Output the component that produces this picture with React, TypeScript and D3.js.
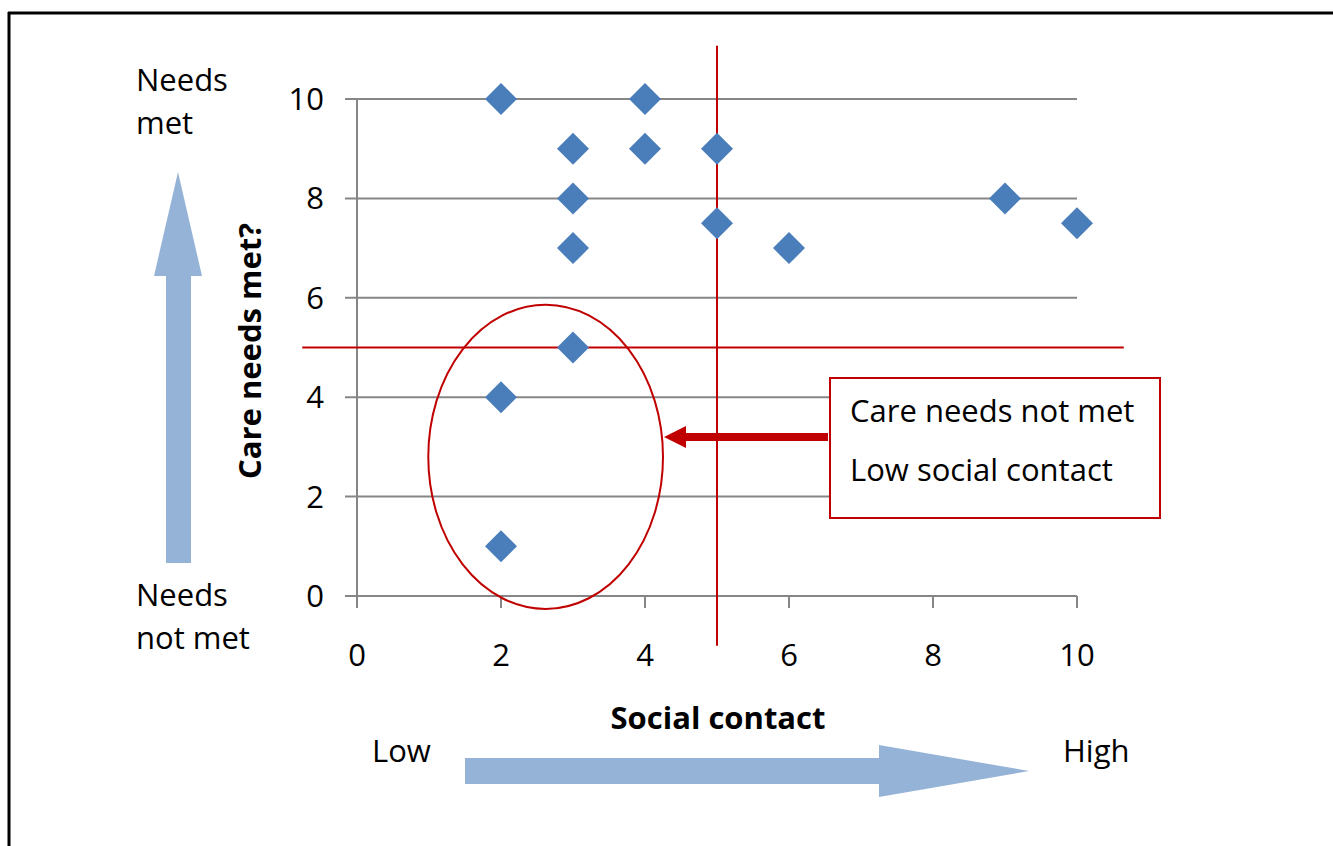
import * as d3 from 'd3';

// scatter data: social contact (x) vs care needs met (y)
const socialContact = [2, 4, 3, 4, 5, 3, 9, 5, 10, 3, 6, 3, 2, 2];
const careNeeds = [10, 10, 9, 9, 9, 8, 8, 7.5, 7.5, 7, 7, 5, 4, 1];
const xTicks = [0, 2, 4, 6, 8, 10];
const yTicks = [0, 2, 4, 6, 8, 10];

const FONT = "'Open Sans', Lato, sans-serif";
const FS = 31;
const RED = '#c00000';
const BLUE = '#95b3d7';

const App = () => {
  const W = 1333;
  const H = 846;
  const margin = { left: 357, right: 256, top: 99, bottom: 250 };

  const x = d3.scaleLinear().domain([0, 10]).range([margin.left, W - margin.right]);
  const y = d3.scaleLinear().domain([0, 10]).range([H - margin.bottom, margin.top]);

  const diamond = d3.symbol().type(d3.symbolSquare).size(512)();

  const y0 = y(0);
  const x0 = x(0);
  const x10 = x(10);

  // vertical blue arrow (Needs not met -> Needs met)
  const upArrow = 'M178,172 L202,276 L191,276 L191,563 L166,563 L166,276 L154,276 Z';
  // horizontal blue arrow (Low -> High)
  const rightArrow = 'M465,758 L879,758 L879,745 L1029,771 L879,797 L879,784 L465,784 Z';

  return (
    <svg width={W} height={H} style={{ position: 'absolute', left: 0, top: 0, fontFamily: FONT }}>
      <rect width={W} height={H} fill="#fff" />
      {/* page border (top and left only) */}
      <line x1={8} x2={W} y1={13} y2={13} stroke="#000" strokeWidth={3} />
      <line x1={9} x2={9} y1={12} y2={H} stroke="#000" strokeWidth={3} />

      {/* gridlines + y ticks */}
      {yTicks.map(t => (
        <g key={'y' + t}>
          <line x1={x0 - 12} x2={x10} y1={y(t)} y2={y(t)} stroke="#868686" strokeWidth={2} />
          <text x={324} y={y(t) + 11} textAnchor="end" fontSize={FS} fill="#000">{t}</text>
        </g>
      ))}
      <line x1={x0} x2={x0} y1={y(10)} y2={y0} stroke="#868686" strokeWidth={2} />
      {/* x ticks */}
      {xTicks.map(t => (
        <g key={'x' + t}>
          <line x1={x(t)} x2={x(t)} y1={y0} y2={y0 + 12} stroke="#868686" strokeWidth={2} />
          <text x={x(t)} y={666} textAnchor="middle" fontSize={FS} fill="#000">{t}</text>
        </g>
      ))}

      {/* threshold lines */}
      <line x1={x(5)} x2={x(5)} y1={y(11.07)} y2={y(-1)} stroke={RED} strokeWidth={2} />
      <line x1={x(-0.76)} x2={x(10.65)} y1={y(5)} y2={y(5)} stroke={RED} strokeWidth={2} />

      {/* points */}
      {socialContact.map((sx, i) => (
        <path
          key={i}
          d={diamond}
          transform={`translate(${x(sx)},${y(careNeeds[i])}) rotate(45)`}
          fill="#4a7ebb"
        />
      ))}

      {/* circled group */}
      <ellipse cx={x(2.62)} cy={y(2.8)} rx={x(1.63) - x(0)} ry={y(0) - y(3.06)} fill="none" stroke={RED} strokeWidth={2} />

      {/* callout */}
      <rect x={830} y={378} width={330} height={140} fill="#fff" stroke={RED} strokeWidth={2} />
      <text x={850} y={422} fontSize={FS} fill="#000">Care needs not met</text>
      <text x={850} y={481} fontSize={FS} fill="#000">Low social contact</text>
      <line x1={828} x2={684} y1={437} y2={437} stroke={RED} strokeWidth={8} />
      <path d="M664,437 L686,426 L686,448 Z" fill={RED} />

      {/* blue direction arrows */}
      <path d={upArrow} fill={BLUE} />
      <path d={rightArrow} fill={BLUE} />

      {/* labels */}
      <text x={136} y={91} fontSize={FS} fill="#000">Needs</text>
      <text x={136} y={134} fontSize={FS} fill="#000">met</text>
      <text x={136} y={606} fontSize={FS} fill="#000">Needs</text>
      <text x={136} y={649} fontSize={FS} fill="#000">not met</text>
      <text
        transform="translate(261,351) rotate(-90)"
        textAnchor="middle"
        fontSize={FS}
        fontWeight="bold"
        fill="#000"
      >
        Care needs met?
      </text>
      <text x={718} y={729} textAnchor="middle" fontSize={FS} fontWeight="bold" fill="#000">Social contact</text>
      <text x={372} y={762} fontSize={FS} fill="#000">Low</text>
      <text x={1063} y={762} fontSize={FS} fill="#000">High</text>
    </svg>
  );
};

export default App;
